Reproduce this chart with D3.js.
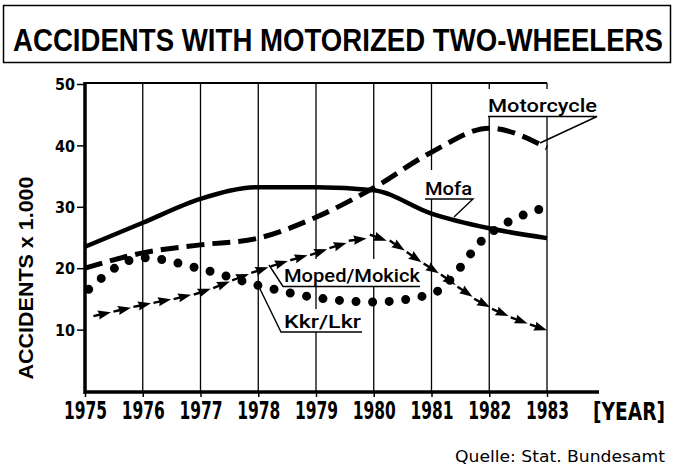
<!DOCTYPE html>
<html>
<head>
<meta charset="utf-8">
<script src="https://cdn.jsdelivr.net/npm/d3@7"></script>
<style>
  html, body { margin: 0; padding: 0; background: #fff; }
  svg { display: block; }
</style>
</head>
<body>
<svg id="chart" width="675" height="469"></svg>
<script>
// ---------------- DATA ----------------
const years = [1975, 1976, 1977, 1978, 1979, 1980, 1981, 1982, 1983];
const mofa       = [23.5, 27.4, 31.3, 33.2, 33.2, 32.7, 28.9, 26.5, 24.9];
const motorcycle = [20.0, 22.5, 23.8, 24.9, 28.3, 33.1, 38.9, 42.8, 39.6];
const mopedMokick = [11.9, 14.0, 16.1, 19.6, 22.5, 24.9, 19.9, 13.7, 9.9];
const kkrLkr     = [16.0, 21.7, 19.9, 17.2, 15.2, 14.5, 15.8, 25.6, 30.0];
const yTicks = [10, 20, 30, 40, 50];
const titleText = "ACCIDENTS WITH MOTORIZED TWO-WHEELERS";
const yAxisTitle = "ACCIDENTS x 1.000";
const xAxisTitle = "[YEAR]";
const sourceText = "Quelle: Stat. Bundesamt";
const seriesNames = ["Motorcycle", "Mofa", "Moped/Mokick", "Kkr/Lkr"];

// ---------------- LAYOUT ----------------
const svg = d3.select("#chart");
const x = d3.scaleLinear().domain([1975, 1983]).range([85, 547]);
const y = d3.scaleLinear().domain([0, 50]).range([391, 84]);

// Title box
svg.append("rect").attr("x", 3.5).attr("y", 5.5).attr("width", 667).attr("height", 57)
  .attr("fill", "none").attr("stroke", "#000").attr("stroke-width", 1.5);
const tScale = 0.8;
svg.append("text").attr("transform", `translate(13,51) scale(${tScale},1)`)
  .attr("font-family", "Liberation Sans, Arial, sans-serif").attr("font-weight", "bold")
  .attr("font-size", 32).attr("textLength", 650 / tScale).attr("lengthAdjust", "spacingAndGlyphs")
  .attr("fill", "#000").text(titleText);

// Gridlines
const grid = svg.append("g");
grid.selectAll("line").data(years.slice(1)).join("line")
  .attr("x1", d => x(d)).attr("x2", d => x(d))
  .attr("y1", y(50) - 1).attr("y2", y(0) + 1)
  .attr("stroke", "#000").attr("stroke-width", 1.3);
// top frame line
svg.append("line").attr("x1", x(1975)).attr("x2", x(1983)).attr("y1", y(50) - 1).attr("y2", y(50) - 1)
  .attr("stroke", "#000").attr("stroke-width", 2);

// White label boxes (cover gridlines)
const boxes = [[486, 89, 114, 27], [422, 170, 54, 29], [281, 259, 142, 27], [281, 309, 83, 23]];
svg.append("g").selectAll("rect").data(boxes).join("rect")
  .attr("x", d => d[0]).attr("y", d => d[1]).attr("width", d => d[2]).attr("height", d => d[3])
  .attr("fill", "#fff");

// Axes
const yAxis = d3.axisLeft(y).tickValues(yTicks).tickSize(8).tickPadding(2).tickFormat(d3.format("d"));
const gy = svg.append("g").attr("transform", `translate(${x(1975)},0)`).call(yAxis);
gy.select(".domain").remove();
gy.selectAll(".tick line").attr("stroke", "#000").attr("stroke-width", 1.5);
gy.selectAll(".tick text").attr("font-family", "DejaVu Sans Condensed, DejaVu Sans, sans-serif")
  .attr("font-weight", "bold").attr("font-size", 16).attr("fill", "#000")
  .attr("textLength", 20).attr("lengthAdjust", "spacingAndGlyphs").attr("dy", "0.36em");

const xAxis = d3.axisBottom(x).tickValues(years).tickSize(5).tickPadding(6).tickFormat(d3.format("d"));
const gx = svg.append("g").attr("transform", `translate(0,${y(0) + 1})`).call(xAxis);
gx.select(".domain").remove();
gx.selectAll(".tick line").attr("stroke", "#000").attr("stroke-width", 1.5);
gx.selectAll(".tick text").attr("font-family", "DejaVu Sans Condensed, DejaVu Sans, sans-serif")
  .attr("font-weight", "bold").attr("font-size", 24).attr("fill", "#000")
  .attr("textLength", 43).attr("lengthAdjust", "spacingAndGlyphs")
  .attr("dy", null).attr("y", 0).attr("transform", "translate(0,27)");

// axis lines
svg.append("line").attr("x1", x(1975)).attr("x2", x(1975)).attr("y1", y(50) - 2).attr("y2", y(0) + 3)
  .attr("stroke", "#000").attr("stroke-width", 3.5);
svg.append("line").attr("x1", x(1975) - 1).attr("x2", 599).attr("y1", y(0) + 1).attr("y2", y(0) + 1)
  .attr("stroke", "#000").attr("stroke-width", 3.5);

// axis titles
svg.append("text").attr("transform", `translate(33,${278}) rotate(-90)`).attr("text-anchor", "middle")
  .attr("font-family", "Liberation Sans, Arial, sans-serif").attr("font-size", 20).attr("font-weight", "bold")
  .attr("textLength", 203).attr("lengthAdjust", "spacingAndGlyphs").attr("fill", "#000").text(yAxisTitle);
svg.append("text").attr("x", 593).attr("y", 420)
  .attr("font-family", "DejaVu Sans Condensed, DejaVu Sans, sans-serif").attr("font-weight", "bold")
  .attr("font-size", 24).attr("textLength", 72).attr("lengthAdjust", "spacingAndGlyphs")
  .attr("fill", "#000").text(xAxisTitle);
svg.append("text").attr("x", 455).attr("y", 462)
  .attr("font-family", "DejaVu Sans, sans-serif").attr("font-size", 15)
  .attr("textLength", 210).attr("lengthAdjust", "spacingAndGlyphs")
  .attr("fill", "#000").text(sourceText);

// ---------------- SERIES ----------------
const line = d3.line().x((d, i) => x(years[i])).y(d => y(d)).curve(d3.curveMonotoneX);

// Mofa - solid
svg.append("path").datum(mofa).attr("d", line).attr("fill", "none")
  .attr("stroke", "#000").attr("stroke-width", 4.5).attr("stroke-linejoin", "round");

// Motorcycle - dashed
svg.append("path").datum(motorcycle).attr("d", line).attr("fill", "none")
  .attr("stroke", "#000").attr("stroke-width", 5).attr("stroke-dasharray", "18 8");

// Kkr/Lkr - dotted
svg.append("path").datum(kkrLkr).attr("d", line).attr("fill", "none")
  .attr("stroke", "#000").attr("stroke-width", 9).attr("stroke-linecap", "round")
  .attr("stroke-dasharray", "0 16.6").attr("stroke-dashoffset", 11.6);

// Moped/Mokick - arrow line
const mopedPath = svg.append("path").datum(mopedMokick).attr("d", line).attr("fill", "none")
  .attr("stroke", "none");
const pNode = mopedPath.node();
const total = pNode.getTotalLength();
const arrows = [];
for (let s = total; s > 12; s -= 20.5) {
  const p = pNode.getPointAtLength(s);
  const q = pNode.getPointAtLength(Math.max(0, s - 2));
  let dx = p.x - q.x, dy = p.y - q.y; const L = Math.hypot(dx, dy) || 1; dx /= L; dy /= L;
  const nx = -dy, ny = dx;
  const pt = (back, w) => [p.x - dx * back + nx * w, p.y - dy * back + ny * w];
  arrows.push([pt(18, 1.2), pt(12, 1.2), pt(13, 4.6), pt(0, 0), pt(13, -4.6), pt(12, -1.2), pt(18, -1.2)]);
}
svg.append("g").selectAll("path").data(arrows).join("path")
  .attr("d", d => "M" + d.map(v => v.join(",")).join("L") + "Z").attr("fill", "#000");

// ---------------- LABELS ----------------
const labels = [
  { t: seriesNames[0], tx: 488, ty: 112, w: 109, ul: [[488, 116.5], [597, 116.5], [540, 143]] },
  { t: seriesNames[1], tx: 425, ty: 195, w: 47, ul: [[425, 199], [473, 199], [454, 217]] },
  { t: seriesNames[2], tx: 284, ty: 282, w: 136, ul: [[420, 286.5], [283, 286.5], [269, 265]] },
  { t: seriesNames[3], tx: 284, ty: 328, w: 77, ul: [[362, 332], [281, 332], [260, 289]] }
];
const lg = svg.append("g");
lg.selectAll("text").data(labels).join("text")
  .attr("x", d => d.tx).attr("y", d => d.ty)
  .attr("font-family", "Roboto, Liberation Sans, Arial, sans-serif").attr("font-size", 19).attr("font-weight", 500)
  .attr("textLength", d => d.w).attr("lengthAdjust", "spacingAndGlyphs")
  .attr("fill", "#000").text(d => d.t);
lg.selectAll("polyline").data(labels).join("polyline")
  .attr("points", d => d.ul.map(v => v.join(",")).join(" "))
  .attr("fill", "none").attr("stroke", "#000").attr("stroke-width", 1.4);
</script>
</body>
</html>
